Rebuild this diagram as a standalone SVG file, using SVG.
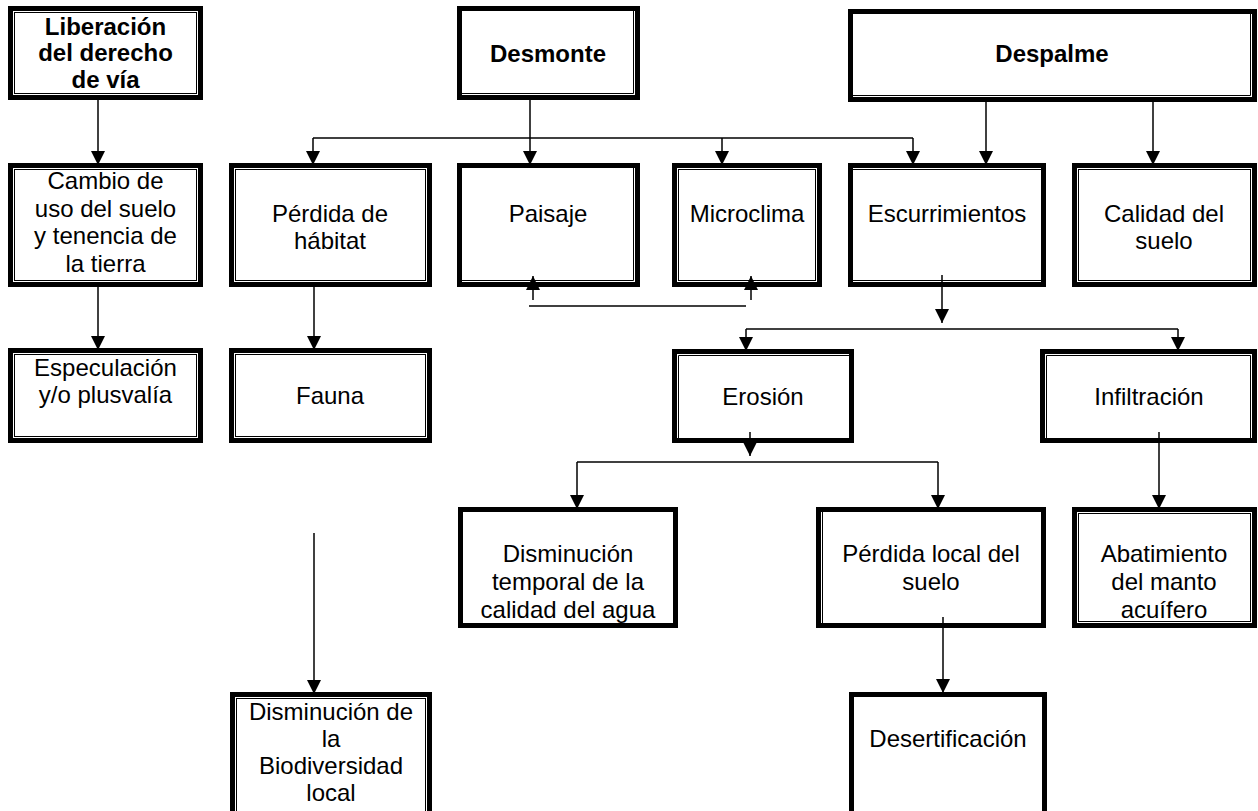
<svg xmlns="http://www.w3.org/2000/svg" width="1258" height="811" viewBox="0 0 1258 811">
<defs>
<style>
.thick{fill:#fff;stroke:#000;stroke-width:5}
.thin{fill:none;stroke:#000;stroke-width:1}
.t{font-family:"Liberation Sans",Arial,sans-serif;font-size:24px;fill:#000;text-anchor:middle}
.b{font-weight:bold}
.c{fill:none;stroke:#000;stroke-width:1.5}
.a{marker-end:url(#ah)}
</style>
<marker id="ah" markerUnits="userSpaceOnUse" markerWidth="14" markerHeight="14" refX="14" refY="7" orient="auto">
<path d="M0,0 L14,7 L0,14 z" fill="#000"/>
</marker>
</defs>
<rect width="1258" height="811" fill="#fff"/>

<g id="liberacion">
<rect class="thick" x="10.5" y="8.5" width="190" height="89"/>
<rect class="thin" x="14.5" y="12.5" width="182" height="81"/>
<text class="t b" x="105.5" y="35">Liberación</text>
<text class="t b" x="105.5" y="61">del derecho</text>
<text class="t b" x="105.5" y="88">de vía</text>
</g>
<g id="desmonte">
<rect class="thick" x="459.5" y="8.5" width="178" height="89"/>
<path class="thin" d="M462,93.5 H633.5 V11"/>
<text class="t b" x="548" y="62">Desmonte</text>
</g>
<g id="despalme">
<rect class="thick" x="850.5" y="11.5" width="404" height="88"/>
<path class="thin" d="M853,95.5 H1250.5 V14"/>
<text class="t b" x="1052" y="62">Despalme</text>
</g>

<g id="cambio">
<rect class="thick" x="10.5" y="165.5" width="190" height="119"/>
<rect class="thin" x="14.5" y="169.5" width="182" height="111"/>
<text class="t" x="105.5" y="189">Cambio de</text>
<text class="t" x="105.5" y="216.5">uso del suelo</text>
<text class="t" x="105.5" y="244">y tenencia de</text>
<text class="t" x="105.5" y="271.5">la tierra</text>
</g>
<g id="habitat">
<rect class="thick" x="231.5" y="165.5" width="198" height="119"/>
<rect class="thin" x="235.5" y="169.5" width="190" height="111"/>
<text class="t" x="330" y="222">Pérdida de</text>
<text class="t" x="330" y="249">hábitat</text>
</g>
<g id="paisaje">
<rect class="thick" x="459.5" y="165.5" width="178" height="119"/>
<path class="thin" d="M462,280.5 H633.5 V168"/>
<text class="t" x="548" y="222">Paisaje</text>
</g>
<g id="microclima">
<rect class="thick" x="674.5" y="165.5" width="145" height="119"/>
<rect class="thin" x="678.5" y="169.5" width="137" height="111"/>
<text class="t" x="747" y="222">Microclima</text>
</g>
<g id="escurrimientos">
<rect class="thick" x="850.5" y="165.5" width="193" height="119"/>
<path class="thin" d="M853,169.5 H1041 M853,280.5 H1041"/>
<text class="t" x="947" y="222">Escurrimientos</text>
</g>
<g id="calidad">
<rect class="thick" x="1074.5" y="165.5" width="180" height="119"/>
<rect class="thin" x="1078.5" y="169.5" width="172" height="111"/>
<text class="t" x="1164" y="222">Calidad del</text>
<text class="t" x="1164" y="249">suelo</text>
</g>

<g id="especulacion">
<rect class="thick" x="10.5" y="350.5" width="190" height="90"/>
<rect class="thin" x="14.5" y="354.5" width="182" height="82"/>
<text class="t" x="105.5" y="376">Especulación</text>
<text class="t" x="105.5" y="403">y/o plusvalía</text>
</g>
<g id="fauna">
<rect class="thick" x="231.5" y="350.5" width="198" height="90"/>
<rect class="thin" x="235.5" y="354.5" width="190" height="82"/>
<text class="t" x="330" y="404">Fauna</text>
</g>
<g id="erosion">
<rect class="thick" x="674.5" y="351.5" width="177" height="89"/>
<path class="thin" d="M678.5,438 V355.5 H849"/>
<text class="t" x="763" y="405">Erosión</text>
</g>
<g id="infiltracion">
<rect class="thick" x="1042.5" y="351.5" width="212" height="89"/>
<path class="thin" d="M1046.5,438 V355.5 H1250.5 V438"/>
<text class="t" x="1149" y="405">Infiltración</text>
</g>

<g id="disminucion-agua">
<rect class="thick" x="460.5" y="509.5" width="215" height="116"/>
<text class="t" x="568" y="562">Disminución</text>
<text class="t" x="568" y="590">temporal de la</text>
<text class="t" x="568" y="618">calidad del agua</text>
</g>
<g id="perdida-suelo">
<rect class="thick" x="818.5" y="509.5" width="225" height="116"/>
<path class="thin" d="M822.5,512 V623"/>
<text class="t" x="931" y="562">Pérdida local del</text>
<text class="t" x="931" y="590">suelo</text>
</g>
<g id="abatimiento">
<rect class="thick" x="1074.5" y="509.5" width="180" height="116"/>
<rect class="thin" x="1078.5" y="513.5" width="172" height="108"/>
<text class="t" x="1164" y="562">Abatimiento</text>
<text class="t" x="1164" y="590">del manto</text>
<text class="t" x="1164" y="618">acuífero</text>
</g>

<g id="biodiversidad">
<rect class="thick" x="232.5" y="694.5" width="197" height="133"/>
<rect class="thin" x="236.5" y="698.5" width="189" height="125"/>
<text class="t" x="331" y="720">Disminución de</text>
<text class="t" x="331" y="747">la</text>
<text class="t" x="331" y="774">Biodiversidad</text>
<text class="t" x="331" y="801">local</text>
</g>
<g id="desertificacion">
<rect class="thick" x="851.5" y="694.5" width="193" height="133"/>
<text class="t" x="948" y="747">Desertificación</text>
</g>

<g id="connectors">
<path class="c a" d="M98,100 V165"/>
<path class="c a" d="M530,100 V165"/>
<path class="c" d="M313,138 H913"/>
<path class="c a" d="M313,138 V165"/>
<path class="c a" d="M722,138 V165"/>
<path class="c a" d="M913,138 V165"/>
<path class="c a" d="M986,102 V165"/>
<path class="c a" d="M1153,102 V165"/>
<path class="c a" d="M98,287 V350"/>
<path class="c a" d="M314,287 V350"/>
<path class="c a" d="M314,533 V694"/>
<path class="c a" d="M533,300 V276"/>
<path class="c a" d="M751,300 V276"/>
<path class="c" d="M529,306 H746"/>
<path class="c a" d="M942,275 V323"/>
<path class="c" d="M746,329 H1178"/>
<path class="c a" d="M746,329 V351"/>
<path class="c a" d="M1178,329 V351"/>
<path class="c a" d="M750,432 V456"/>
<path class="c" d="M577,462 H938"/>
<path class="c a" d="M577,462 V509"/>
<path class="c a" d="M938,462 V509"/>
<path class="c a" d="M1159,432 V509"/>
<path class="c a" d="M943,617 V693"/>
</g>
</svg>
